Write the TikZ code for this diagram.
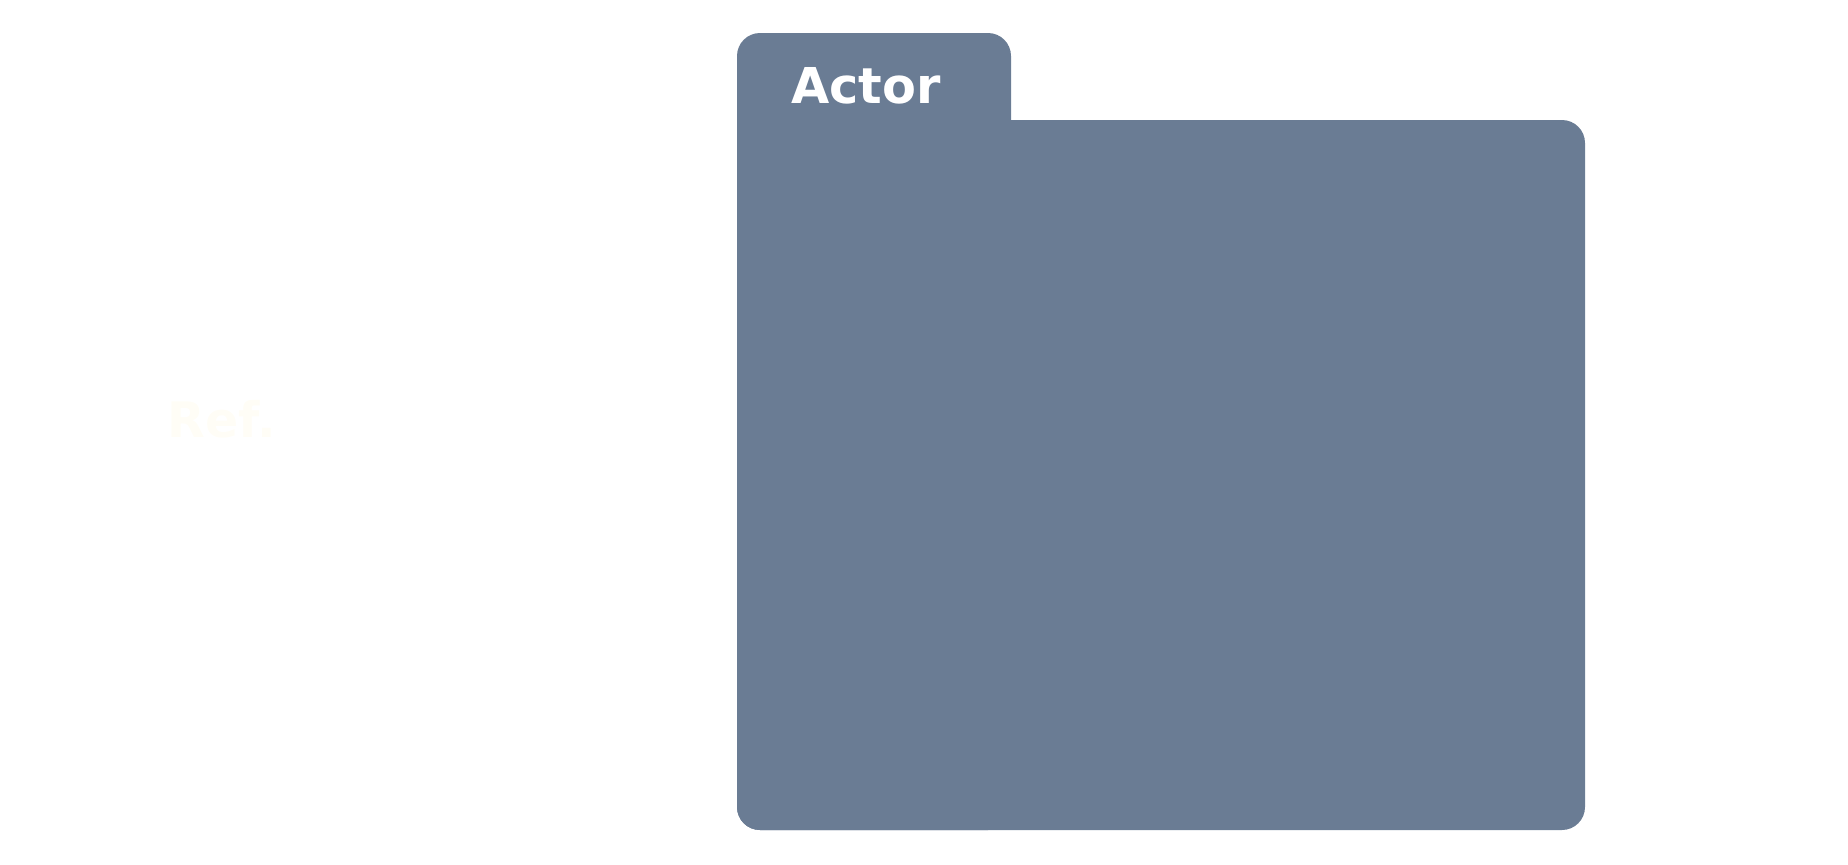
\documentclass[tikz,border=0pt]{standalone}
\usepackage{fontspec}
\setmainfont{DejaVu Sans}
\definecolor{folderblue}{HTML}{6A7C94}
\definecolor{faintcream}{HTML}{FFFDF6}

\begin{document}
\begin{tikzpicture}[x=0.5pt, y=-0.5pt]
  \useasboundingbox (0,0) rectangle (1848,864);
  % folder: tab and body
  \fill[folderblue, rounded corners=11.5pt] (737,33) rectangle (1011,830);
  \fill[folderblue, rounded corners=11.5pt] (737,120) rectangle (1585,830);
  % labels
  \node[text=white, inner sep=0, anchor=base west,
        font=\bfseries\fontsize{24.7}{28}\selectfont] (actor) at (791,103) {Actor};
  \node[text=faintcream, inner sep=0, anchor=base west,
        font=\bfseries\fontsize{24.5}{28}\selectfont] (ref) at (167,437) {Ref.};
\end{tikzpicture}
\end{document}
